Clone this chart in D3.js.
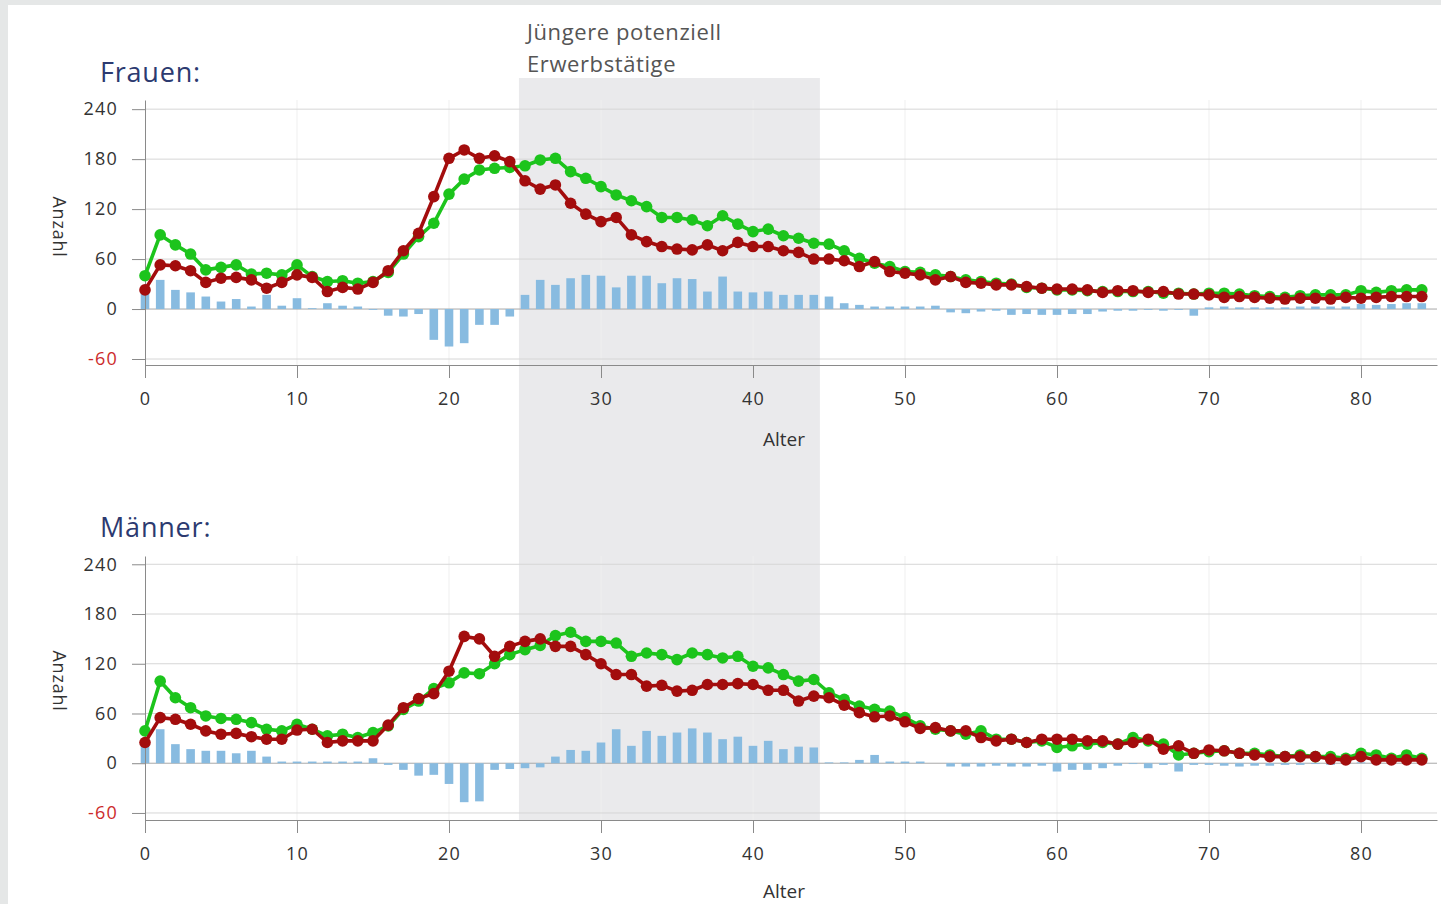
<!DOCTYPE html>
<html>
<head>
<meta charset="utf-8">
<script src="https://cdn.jsdelivr.net/npm/d3@7"></script>
<style>
  body { margin: 0; background: #e5e7e7; }
  svg { display: block; }
  text { font-family: "Open Sans", "Noto Sans", sans-serif; }
</style>
</head>
<body>
<svg id="chart" width="1441" height="904"></svg>
<script>
// ages 0..84
const ages = d3.range(0, 85);
const xTicks = [0, 10, 20, 30, 40, 50, 60, 70, 80];
const yTicks = [240, 180, 120, 60, 0, -60];
const band = [24.6, 44.4]; // "Jüngere potenziell Erwerbstätige"

// Frauen
const frauenGruen = [40, 89, 77, 66, 47, 50, 53, 42, 43, 41, 53, 39, 33, 34, 31, 33, 44, 66, 87, 103,
  138, 156, 167, 169, 170, 172, 179, 181, 165, 157, 147, 137, 130, 123, 110, 110, 107, 100, 112, 102,
  93, 96, 88, 85, 79, 78, 70, 61, 55, 51, 45, 44, 41, 39, 35, 33, 31, 30, 26, 25,
  23, 23, 22, 21, 21, 21, 21, 19, 19, 18, 19, 19, 18, 16, 15, 14, 16, 17, 17, 17,
  22, 20, 22, 23, 23];
const frauenRot = [23, 53, 52, 46, 32, 37, 38, 35, 25, 32, 41, 38, 21, 26, 24, 32, 46, 70, 91, 135,
  181, 191, 181, 184, 177, 154, 144, 149, 127, 114, 105, 110, 89, 81, 75, 72, 71, 77, 70, 80,
  75, 75, 70, 68, 60, 60, 58, 51, 57, 45, 43, 41, 35, 39, 32, 31, 29, 29, 27, 25,
  24, 24, 23, 20, 22, 22, 20, 21, 18, 18, 17, 14, 15, 14, 13, 12, 13, 13, 12, 14,
  13, 14, 15, 15, 15];
const frauenDiff = [25, 35, 23, 20, 15, 9, 12, 3, 17, 4, 13, 1, 7, 4, 3, -1, -8, -9, -6, -37,
  -45, -41, -19, -19, -9, 17, 35, 29, 37, 41, 40, 26, 40, 40, 31, 37, 36, 21, 39, 21,
  20, 21, 17, 17, 17, 15, 7, 5, 3, 3, 3, 3, 4, -4, -5, -3, -2, -7, -6, -7,
  -7, -6, -6, -3, -2, -2, -1, -2, -1, -8, 2, 3, 2, 2, 2, 2, 3, 3, 3, 3,
  6, 5, 6, 7, 7];

// Männer
const maennerGruen = [39, 99, 79, 67, 57, 54, 53, 49, 41, 39, 47, 41, 33, 35, 31, 37, 45, 65, 75, 90,
  97, 109, 108, 120, 131, 137, 142, 154, 158, 147, 147, 145, 129, 133, 131, 125, 133, 131, 127, 129,
  117, 115, 107, 99, 101, 85, 77, 69, 65, 63, 55, 45, 41, 39, 35, 39, 29, 29, 25, 27,
  19, 21, 23, 25, 23, 31, 27, 23, 10, 12, 14, 15, 12, 12, 10, 8, 10, 8, 8, 6,
  12, 10, 6, 10, 6];
const maennerRot = [25, 55, 53, 47, 39, 35, 36, 32, 29, 29, 40, 41, 25, 27, 27, 27, 46, 67, 78, 84,
  111, 153, 150, 129, 141, 147, 150, 141, 141, 131, 120, 107, 107, 93, 94, 87, 88, 95, 95, 96,
  95, 88, 88, 75, 81, 79, 70, 61, 56, 57, 50, 42, 43, 39, 39, 31, 27, 29, 25, 29,
  29, 29, 27, 27, 23, 25, 29, 17, 21, 12, 16, 15, 12, 10, 8, 8, 8, 8, 5, 4,
  8, 4, 4, 4, 4];
const maennerDiff = [25, 41, 23, 17, 15, 15, 12, 15, 8, 2, 2, 2, 2, 2, 2, 6, -2, -8, -15, -14,
  -25, -47, -46, -8, -7, -6, -5, 8, 16, 15, 25, 41, 21, 39, 33, 37, 42, 37, 29, 32,
  21, 27, 17, 20, 19, 1, 1, 4, 10, 2, 2, 2, 0, -4, -4, -4, -3, -4, -4, -3,
  -10, -8, -8, -6, -3, -1, -6, -2, -10, -2, -2, -3, -4, -3, -3, -2, -2, -1, -2, -1,
  1, 1, 1, 1, 1];

const colors = { green: "#1cc41c", red: "#a30d0d", bar: "#88bbe0", title: "#2c3a70", grid: "#d6d6d6", axis: "#8a8a8a" };

const panels = [
  { title: "Frauen:", green: frauenGruen, red: frauenRot, diff: frauenDiff,
    domain: [-67.2, 251], range: [365, 100], titleY: 82, labelY: 227, alterY: 446 },
  { title: "Männer:", green: maennerGruen, red: maennerRot, diff: maennerDiff,
    domain: [-68.5, 250], range: [820, 556], titleY: 537, labelY: 681, alterY: 898 }
];

const svg = d3.select("#chart");

svg.append("rect")
  .attr("x", 8).attr("y", 5)
  .attr("width", 1441 - 8).attr("height", 904 - 5)
  .attr("fill", "#fff");

const x = d3.scaleLinear().domain([0, 85]).range([145, 1437]);

// shaded age band across both charts
svg.append("rect")
  .attr("x", x(band[0]))
  .attr("y", 78)
  .attr("width", x(band[1]) - x(band[0]))
  .attr("height", 820 - 78)
  .attr("fill", "#eaeaec");

svg.append("text")
  .attr("x", 527).attr("y", 40)
  .attr("font-size", 22).attr("fill", "#555")
  .attr("letter-spacing", 0.6)
  .text("Jüngere potenziell");
svg.append("text")
  .attr("x", 527).attr("y", 72)
  .attr("font-size", 22).attr("fill", "#555")
  .attr("letter-spacing", 0.6)
  .text("Erwerbstätige");

panels.forEach(p => {
  const y = d3.scaleLinear().domain(p.domain).range(p.range);
  const g = svg.append("g");

  // faint vertical grid
  g.append("g")
    .selectAll("line")
    .data(xTicks.slice(1))
    .join("line")
      .attr("x1", d => x(d)).attr("x2", d => x(d))
      .attr("y1", p.range[1]).attr("y2", p.range[0])
      .attr("stroke", "#efefef");

  // horizontal grid
  g.append("g")
    .selectAll("line")
    .data(yTicks)
    .join("line")
      .attr("x1", x(0)).attr("x2", x(85))
      .attr("y1", d => y(d)).attr("y2", d => y(d))
      .attr("stroke", d => d === 0 ? "#a8a8a8" : colors.grid);

  // difference bars
  g.append("g")
    .selectAll("rect")
    .data(p.diff)
    .join("rect")
      .attr("x", (d, i) => x(ages[i]) - 4.3)
      .attr("width", 8.6)
      .attr("y", d => y(Math.max(0, d)))
      .attr("height", d => Math.abs(y(d) - y(0)))
      .attr("fill", colors.bar);

  // axes
  const xAxis = g.append("g")
    .attr("transform", `translate(0,${p.range[0]})`)
    .call(d3.axisBottom(x).tickValues(xTicks).tickSize(13).tickPadding(14).tickSizeOuter(0));
  xAxis.select(".domain").attr("stroke", colors.axis);
  xAxis.selectAll(".tick line").attr("stroke", colors.axis);
  xAxis.selectAll("text")
    .attr("font-size", 18).attr("fill", "#333").attr("letter-spacing", 1.2)
    .attr("font-family", "\"Open Sans\", sans-serif");

  const yAxis = g.append("g")
    .attr("transform", `translate(${x(0)},0)`)
    .call(d3.axisLeft(y).tickValues(yTicks).tickFormat(d => String(d))
      .tickSize(13).tickPadding(14).tickSizeOuter(0));
  yAxis.select(".domain").attr("stroke", colors.axis);
  yAxis.selectAll(".tick line").attr("stroke", colors.axis);
  yAxis.selectAll("text")
    .attr("font-size", 18).attr("letter-spacing", 1.2)
    .attr("font-family", "\"Open Sans\", sans-serif")
    .attr("fill", d => d < 0 ? "#cc2b2b" : "#333");

  // lines with markers
  [[p.green, colors.green], [p.red, colors.red]].forEach(([vals, col]) => {
    const line = d3.line().x((d, i) => x(ages[i])).y(d => y(d));
    g.append("path")
      .datum(vals)
      .attr("d", line)
      .attr("fill", "none")
      .attr("stroke", col)
      .attr("stroke-width", 3.6)
      .attr("stroke-linejoin", "round");
    g.append("g")
      .selectAll("circle")
      .data(vals)
      .join("circle")
        .attr("cx", (d, i) => x(ages[i]))
        .attr("cy", d => y(d))
        .attr("r", 5.8)
        .attr("fill", col);
  });

  // labels
  g.append("text")
    .attr("x", 100).attr("y", p.titleY)
    .attr("font-size", 27).attr("fill", colors.title)
    .attr("letter-spacing", 0.8)
    .text(p.title);

  g.append("text")
    .attr("transform", `translate(53,${p.labelY}) rotate(90)`)
    .attr("text-anchor", "middle")
    .attr("font-size", 18).attr("fill", "#333")
    .attr("letter-spacing", 0.8)
    .text("Anzahl");

  g.append("text")
    .attr("x", 784).attr("y", p.alterY)
    .attr("text-anchor", "middle")
    .attr("font-size", 19).attr("fill", "#333")
    .text("Alter");
});
</script>
</body>
</html>
